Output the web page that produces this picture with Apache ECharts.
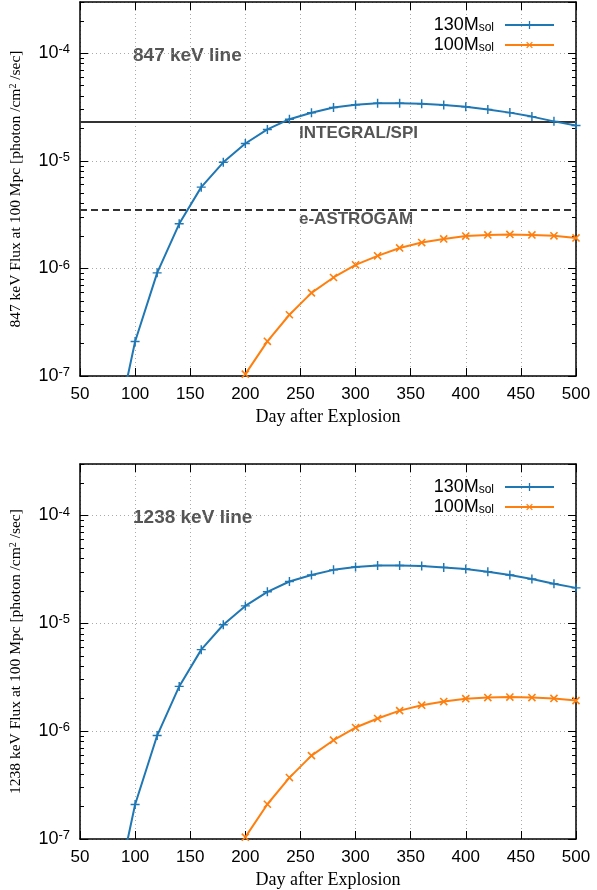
<!DOCTYPE html>
<html><head><meta charset="utf-8">
<script src="https://cdn.jsdelivr.net/npm/echarts@6/dist/echarts.min.js"></script>
<style>html,body{margin:0;padding:0;background:#fff}#c{width:597px;height:890px}</style>
</head><body><div id="c"></div>
<script>
// ---- data ----
const days130 = [80,100,120,140,160,180,200,220,240,260,280,300,320,340,360,380,400,420,440,460,480,500];
const flux130 = [2.3e-8,2.09e-7,9.1e-7,2.6e-6,5.7e-6,9.7e-6,1.45e-5,1.96e-5,2.44e-5,2.8e-5,3.13e-5,3.33e-5,3.43e-5,3.43e-5,3.4e-5,3.3e-5,3.19e-5,3.01e-5,2.81e-5,2.58e-5,2.33e-5,2.13e-5];
const days100 = [200,220,240,260,280,300,320,340,360,380,400,420,440,460,480,500];
const flux100 = [1.04e-7,2.1e-7,3.71e-7,5.93e-7,8.24e-7,1.08e-6,1.31e-6,1.55e-6,1.74e-6,1.88e-6,2.0e-6,2.05e-6,2.07e-6,2.05e-6,2.01e-6,1.92e-6];
const integralSPI = 2.3e-5;
const eASTROGAM = 3.5e-6;
const xMin = 50, xMax = 500, xStep = 50;
const yMin = 1e-7, yMax = 3e-4;
const panelTitles = ['847 keV line','1238 keV line'];
const yNames = ['847 keV Flux at 100 Mpc [photon /cm{s|2} /sec]','1238 keV Flux at 100 Mpc [photon /cm{s|2} /sec]'];
const seriesNames = ['130M','100M'];

// minor tick positions (2..9 per decade), expressed as log10 for a decoration axis
const logMin = Math.log10(yMin), logMax = Math.log10(yMax);
const yMinorLog = [];
for (let e = -7; e <= -4; e++) for (let m = 2; m <= 9; m++) { const v = e + Math.log10(m); if (v <= logMax) yMinorLog.push(v); }

const BLUE = '#1f77b4', ORANGE = '#ff7f0e';
const grids = [
  {left: 77, top: 2, width: 499, height: 374},
  {left: 77, top: 464, width: 499, height: 375}
];
const plusPath = 'path://M4.2,0H5.8V10H4.2Z M0,4.2H10V5.8H0Z';

const xAxes = [], yAxes = [], series = [], legends = [], graphics = [];
grids.forEach((g, gi) => {
  xAxes.push({
    type: 'value', gridIndex: gi, min: xMin, max: xMax, interval: xStep, position: 'bottom',
    name: 'Day after Explosion', nameLocation: 'middle', nameGap: 32,
    nameTextStyle: {fontFamily: 'Liberation Serif', fontSize: 18, color: '#000'},
    axisLine: {show: true, onZero: false, lineStyle: {color: '#000', width: 1.5}},
    axisTick: {show: true, inside: true, length: 8, lineStyle: {color: '#000', width: 1}},
    axisLabel: {fontFamily: 'Liberation Sans', fontSize: 17, color: '#000', margin: 10},
    splitLine: {show: true, lineStyle: {color: '#aaa', type: [1, 3], width: 1}}
  });
  xAxes.push({
    type: 'value', gridIndex: gi, min: xMin, max: xMax, interval: xStep, position: 'top',
    axisLine: {show: true, onZero: false, lineStyle: {color: '#000', width: 1.5}},
    axisTick: {show: true, inside: true, length: 8, lineStyle: {color: '#000', width: 1}},
    axisLabel: {show: false}, splitLine: {show: false}
  });
  const supRich = {
    b: {fontFamily: 'Liberation Sans', fontSize: 18, color: '#000', lineHeight: 20},
    s: {fontFamily: 'Liberation Sans', fontSize: 13, color: '#000', lineHeight: 14, verticalAlign: 'top'}
  };
  const labFmt = v => {
    const e = Math.log10(v);
    if (Math.abs(e - Math.round(e)) > 1e-6) return '';
    return '{b|10}{s|' + Math.round(e) + '}';
  };
  // left major (data axis)
  yAxes.push({
    type: 'log', logBase: 10, gridIndex: gi, min: yMin, max: yMax, position: 'left',
    name: yNames[gi], nameLocation: 'middle', nameGap: 56,
    nameTextStyle: {fontFamily: 'Liberation Serif', fontSize: 15.5, color: '#000',
      rich: {s: {fontFamily: 'Liberation Serif', fontSize: 10, color: '#000', verticalAlign: 'top', lineHeight: 10}}},
    axisLine: {show: true, onZero: false, lineStyle: {color: '#000', width: 1.5}},
    axisTick: {show: true, inside: true, length: 8, lineStyle: {color: '#000', width: 1}},
    axisLabel: {formatter: labFmt, rich: supRich, margin: 10, showMaxLabel: false},
    splitLine: {show: true, lineStyle: {color: '#aaa', type: [1, 3], width: 1}}
  });
  // left minor ticks (decoration axis in log10 units)
  yAxes.push({
    type: 'value', gridIndex: gi, min: logMin, max: logMax, position: 'left',
    axisLine: {show: false},
    axisTick: {show: true, inside: true, length: 4, customValues: yMinorLog, lineStyle: {color: '#000', width: 1}},
    axisLabel: {show: false}, splitLine: {show: false}
  });
  // right major
  yAxes.push({
    type: 'log', logBase: 10, gridIndex: gi, min: yMin, max: yMax, position: 'right',
    axisLine: {show: true, onZero: false, lineStyle: {color: '#000', width: 1.5}},
    axisTick: {show: true, inside: true, length: 8, lineStyle: {color: '#000', width: 1}},
    axisLabel: {show: false}, splitLine: {show: false}
  });
  // right minor
  yAxes.push({
    type: 'value', gridIndex: gi, min: logMin, max: logMax, position: 'right',
    axisLine: {show: false},
    axisTick: {show: true, inside: true, length: 4, customValues: yMinorLog, lineStyle: {color: '#000', width: 1}},
    axisLabel: {show: false}, splitLine: {show: false}
  });

  const xi = gi * 2, yi = gi * 4;
  if (gi === 0) {
    series.push({
      name: 'INTEGRAL/SPI', type: 'line', xAxisIndex: xi, yAxisIndex: yi,
      data: [[xMin, integralSPI], [xMax, integralSPI]], symbol: 'none', silent: true,
      lineStyle: {color: '#333', width: 2, type: 'solid'}, z: 3
    });
    series.push({
      name: 'e-ASTROGAM', type: 'line', xAxisIndex: xi, yAxisIndex: yi,
      data: [[xMin, eASTROGAM], [xMax, eASTROGAM]], symbol: 'none', silent: true,
      lineStyle: {color: '#333', width: 2, type: [7, 4]}, z: 3
    });
  }
  series.push({
    name: seriesNames[0], type: 'line', xAxisIndex: xi, yAxisIndex: yi,
    data: days130.map((d, i) => [d, flux130[i]]),
    symbol: plusPath, symbolSize: 9, showAllSymbol: true,
    lineStyle: {color: BLUE, width: 2}, itemStyle: {color: BLUE}, clip: true, z: 5
  });
  series.push({
    name: seriesNames[1], type: 'line', xAxisIndex: xi, yAxisIndex: yi,
    data: days100.map((d, i) => [d, flux100[i]]),
    symbol: plusPath, symbolRotate: 45, symbolSize: 10, showAllSymbol: true,
    lineStyle: {color: ORANGE, width: 2}, itemStyle: {color: ORANGE}, clip: true, z: 5
  });
  legends.push({
    data: seriesNames, orient: 'vertical', align: 'right', right: 37, top: g.top + 9,
    itemWidth: 49, itemHeight: 10, itemGap: 2, selectedMode: false,
    formatter: n => '{a|' + n + '}{s|sol}',
    textStyle: {
      rich: {
        a: {fontFamily: 'Liberation Sans', fontSize: 18, color: '#000', lineHeight: 18},
        s: {fontFamily: 'Liberation Sans', fontSize: 12, color: '#000', lineHeight: 10, verticalAlign: 'bottom', padding: [0, 6, 0, 0]}
      }
    }
  });
  graphics.push({
    type: 'text', left: 133, top: g.top + 44,
    style: {text: panelTitles[gi], font: 'bold 19px "Liberation Sans"', fill: '#555'}
  });
});
graphics.push({type: 'text', left: 299, top: 125, style: {text: 'INTEGRAL/SPI', font: 'bold 17px "Liberation Sans"', fill: '#555'}});
graphics.push({type: 'text', left: 299, top: 211, style: {text: 'e-ASTROGAM', font: 'bold 17px "Liberation Sans"', fill: '#555'}});

const chart = echarts.init(document.getElementById('c'), null, {renderer: 'canvas'});
chart.setOption({
  animation: false,
  backgroundColor: '#fff',
  grid: grids,
  xAxis: xAxes,
  yAxis: yAxes,
  legend: legends,
  series: series,
  graphic: graphics
});
</script></body></html>
